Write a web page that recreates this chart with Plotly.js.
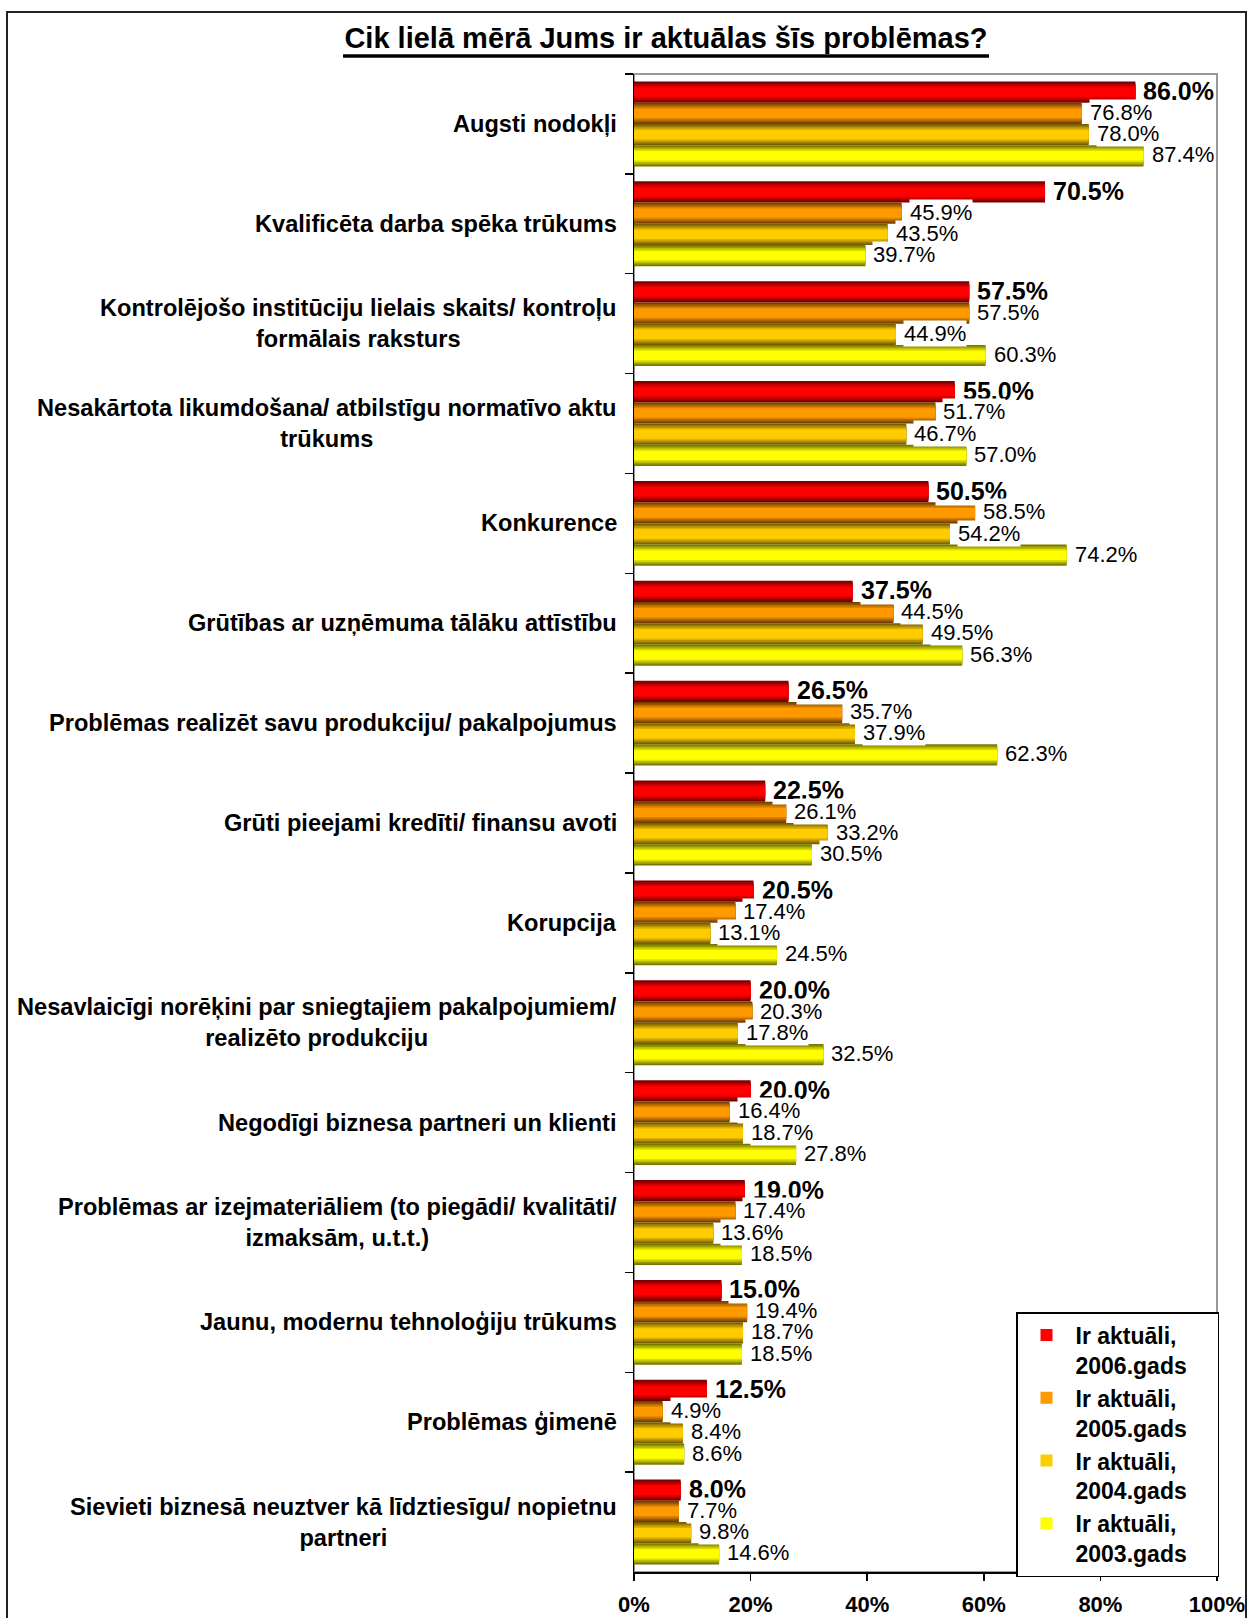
<!DOCTYPE html>
<html><head><meta charset="utf-8">
<script src="https://cdn.plot.ly/plotly-3.0.1.min.js"></script>
<style>html,body{margin:0;padding:0;background:#fff}#chart{width:1248px;height:1618px}</style>
</head><body><div id="chart"></div>
<script>
// ---- data ----
const categories = [
  'Augsti nodokļi',
  'Kvalificēta darba spēka trūkums',
  'Kontrolējošo institūciju lielais skaits/ kontroļu<br>formālais raksturs',
  'Nesakārtota likumdošana/ atbilstīgu normatīvo aktu<br>trūkums',
  'Konkurence',
  'Grūtības ar uzņēmuma tālāku attīstību',
  'Problēmas realizēt savu produkciju/ pakalpojumus',
  'Grūti pieejami kredīti/ finansu avoti',
  'Korupcija',
  'Nesavlaicīgi norēķini par sniegtajiem pakalpojumiem/<br>realizēto produkciju',
  'Negodīgi biznesa partneri un klienti',
  'Problēmas ar izejmateriāliem (to piegādi/ kvalitāti/<br>izmaksām, u.t.t.)',
  'Jaunu, modernu tehnoloģiju trūkums',
  'Problēmas ģimenē',
  'Sievieti biznesā neuztver kā līdztiesīgu/ nopietnu<br>partneri'
];
const seriesNames = ['Ir aktuāli,<br>2006.gads', 'Ir aktuāli,<br>2005.gads', 'Ir aktuāli,<br>2004.gads', 'Ir aktuāli,<br>2003.gads'];
const v2006 = [86.0, 70.5, 57.5, 55.0, 50.5, 37.5, 26.5, 22.5, 20.5, 20.0, 20.0, 19.0, 15.0, 12.5, 8.0];
const v2005 = [76.8, 45.9, 57.5, 51.7, 58.5, 44.5, 35.7, 26.1, 17.4, 20.3, 16.4, 17.4, 19.4, 4.9, 7.7];
const v2004 = [78.0, 43.5, 44.9, 46.7, 54.2, 49.5, 37.9, 33.2, 13.1, 17.8, 18.7, 13.6, 18.7, 8.4, 9.8];
const v2003 = [87.4, 39.7, 60.3, 57.0, 74.2, 56.3, 62.3, 30.5, 24.5, 32.5, 27.8, 18.5, 18.5, 8.6, 14.6];
const xTickVals = [0, 20, 40, 60, 80, 100];
const xTickText = ['0%', '20%', '40%', '60%', '80%', '100%'];
const titleText = 'Cik lielā mērā Jums ir aktuālas šīs problēmas?';

// ---- styles ----
const series = [v2006, v2005, v2004, v2003];
const baseColors = [[255,0,0],[255,153,0],[255,204,0],[255,255,0]];
const darkColors = [[120,0,0],[115,64,0],[120,94,0],[120,120,0]];
const layerFrac = [1.0, 0.86, 0.72, 0.58, 0.44];
const W = 1248, H = 1618, M = {l: 634, r: 31, t: 74, b: 46};
const PW = W - M.l - M.r, PH = H - M.t - M.b;
const pxPerCat = PH / categories.length;
const groupStart = -0.425, bw = 0.2125;
const px = x => (x - M.l) / PW;
const py = y => (H - M.b - y) / PH;
const FONT = 'Liberation Sans, Arial, sans-serif';
const legendPad = '\u00a0\u00a0\u00a0\u00a0';

function mix(a, b, t) {
  return 'rgb(' + a.map((v, i) => Math.round(v + (b[i] - v) * t)).join(',') + ')';
}

const traces = [];
series.forEach((vals, k) => {
  layerFrac.forEach((f, j) => {
    traces.push({
      type: 'bar', orientation: 'h',
      y: categories, x: vals,
      offset: groupStart + k * bw + (1 - f) / 2 * bw,
      width: f * bw,
      name: seriesNames[k] + legendPad,
      legendgroup: 's' + k,
      showlegend: j === layerFrac.length - 1,
      marker: {color: mix(darkColors[k], baseColors[k], j / (layerFrac.length - 1)), line: {width: 0}},
      hoverinfo: 'x+name'
    });
  });
});

const annotations = [];
categories.forEach((c, i) => {
  annotations.push({
    x: 0, xref: 'paper', y: c, yref: 'y', xanchor: 'right', yanchor: 'middle',
    xshift: -15, align: 'center', showarrow: false, text: c,
    font: {family: FONT, size: 23.6, weight: 'bold', color: '#000'}
  });
  series.forEach((vals, k) => {
    const center = groupStart + (k + 0.5) * bw;
    annotations.push({
      x: vals[i], xref: 'x', y: c, yref: 'y', xanchor: 'left', yanchor: 'middle',
      xshift: 7, yshift: -center * pxPerCat + 1, showarrow: false,
      text: vals[i].toFixed(1) + '%', bgcolor: '#fff', borderpad: 0,
      font: {family: FONT, size: k === 0 ? 25 : 22, weight: k === 0 ? 'bold' : 'normal', color: '#000'}
    });
  });
});

const shapes = [
  {type: 'rect', xref: 'paper', yref: 'paper', x0: 0, x1: 1, y0: 0, y1: 1, layer: 'below', line: {color: '#999', width: 2}},
  {type: 'path', xref: 'paper', yref: 'paper', path: 'M' + px(7) + ',' + py(1700) + ' L' + px(7) + ',' + py(12) + ' L' + px(1246) + ',' + py(12) + ' L' + px(1246) + ',' + py(1700), line: {color: '#222', width: 2}},
  {type: 'line', xref: 'paper', yref: 'paper', x0: px(343), x1: px(989), y0: py(56), y1: py(56), line: {color: '#000', width: 3.5}}
];

const layout = {
  width: W, height: H, margin: M,
  paper_bgcolor: '#fff', plot_bgcolor: '#fff',
  barmode: 'overlay',
  showlegend: true,
  title: {text: titleText, x: 666 / W, xref: 'container', xanchor: 'center', y: 1 - 38 / H, yref: 'container', yanchor: 'middle',
    font: {family: FONT, size: 29, weight: 'bold', color: '#000'}},
  xaxis: {range: [0, 100], tickvals: xTickVals, ticktext: xTickText, ticks: 'outside', ticklen: 7, tickcolor: '#000', tickwidth: 1.5,
    showline: true, linecolor: '#000', linewidth: 1.5, showgrid: false, zeroline: false, ticklabelstandoff: 5,
    tickfont: {family: FONT, size: 22, weight: 'bold', color: '#000'}, fixedrange: true},
  yaxis: {type: 'category', range: [categories.length - 0.5, -0.5], tickson: 'boundaries', ticks: 'outside', ticklen: 8,
    tickcolor: '#000', tickwidth: 1.5, showticklabels: false, showline: true, linecolor: '#000', linewidth: 1.5, showgrid: false, fixedrange: true},
  legend: {x: px(1016), y: py(1312), xanchor: 'left', yanchor: 'top', bgcolor: '#fff', bordercolor: '#000', borderwidth: 1.5,
    traceorder: 'normal', itemwidth: 48, valign: 'top', font: {family: FONT, size: 23, weight: 'bold', color: '#000'}},
  annotations: annotations,
  shapes: shapes
};

Plotly.newPlot('chart', traces, layout, {displayModeBar: false, staticPlot: true});
</script>
</body></html>
